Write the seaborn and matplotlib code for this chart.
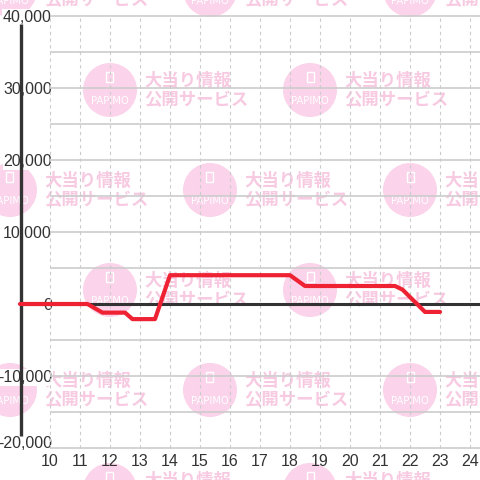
import numpy as np
import pandas as pd
import seaborn as sns
import matplotlib.pyplot as plt
import matplotlib.transforms as mtransforms
from matplotlib.patches import Rectangle

# game balance over the day (hour -> medals)
hours = [9, 11.25, 11.75, 12.5, 12.75, 13.5, 14, 18, 18.5, 21.5, 21.75, 22.5, 23]
balance = [0, 0, -1200, -1200, -2100, -2100, 4000, 4000, 2500, 2500, 2000, -1100, -1100]

x_ticks = list(range(10, 25))
y_ticks = [-20000, -10000, 0, 10000, 20000, 30000, 40000]
y_tick_labels = ['-20,000', '-10,000', '0', '10,000', '20,000', '30,000', '40,000']

df = pd.DataFrame({'hour': hours, 'balance': balance})

sns.set_theme(style="white")
plt.rcParams['font.family'] = ['Liberation Sans', 'DejaVu Sans']

fig = plt.figure(figsize=(4.8, 4.8), dpi=100)
ax = fig.add_axes([0, 0, 1, 1])
ax.set_xlim(9 - 20 / 30, 10 + 430 / 30)
ax.set_ylim(-20000 - 32 / 72 * 10000, 40000 + 16 / 72 * 10000)
for s in ax.spines.values():
    s.set_visible(False)


# watermark tiles, pixel centres converted to data coords
def px(x, y):
    return 9 + (x - 20) / 30, (304 - y) / 72 * 10000


centres = [(10, -10), (210, -10), (410, -10),
           (110, 90), (310, 90),
           (10, 190), (210, 190), (410, 190),
           (110, 290), (310, 290),
           (10, 390), (210, 390), (410, 390),
           (110, 490), (310, 490)]
pink = '#fbd3ea'
pink_txt = '#f7cae2'
for cx, cy in centres:
    x0, y0 = px(cx, cy)
    ax.scatter([x0], [y0], s=1512, color=pink, edgecolor='none', zorder=0)
    ix, iy = px(cx - 3.5, cy - 8)
    ax.add_patch(Rectangle((ix, iy), 7 / 30, 10 / 72 * 10000, fill=False,
                           edgecolor='white', lw=1, zorder=0.5))
    tx, ty = px(cx, cy + 11)
    ax.text(tx, ty, 'PAPIMO', color='white', fontsize=8, ha='center',
            va='center', family='DejaVu Sans', fontstretch='condensed', zorder=0.5)
    t1x, t1y = px(cx + 34, cy - 9)
    ax.text(t1x, t1y, '大当り情報', color=pink_txt, fontsize=12.5, weight='bold',
            ha='left', va='center', family=['Noto Sans CJK JP'], zorder=0.5)
    t2x, t2y = px(cx + 34, cy + 10)
    ax.text(t2x, t2y, '公開サービス', color=pink_txt, fontsize=12.5, weight='bold',
            ha='left', va='center', family=['Noto Sans CJK JP'], zorder=0.5)

# grid
ax.hlines(np.arange(-20000, 40001, 5000), 10, 24.4, color='#cccccc', lw=1.2, zorder=1)
ax.vlines(x_ticks, -20000, 40000, color='#cccccc', lw=0.8, linestyles=(0, (3, 3)), zorder=1)

# axes lines
ax.hlines(0, 9.05, 24.4, color='#333333', lw=2.2, zorder=2)
ax.vlines(9.05, -18300, 38900, color='#333333', lw=2.4, zorder=2)

sns.lineplot(data=df, x='hour', y='balance', color='#ee2233', lw=3,
             ax=ax, zorder=3, solid_capstyle='round', solid_joinstyle='round')

ax.set_xticks(x_ticks)
ax.set_yticks(y_ticks)
ax.set_yticklabels(y_tick_labels)
ax.tick_params(axis='y', length=0, pad=-37.4, labelsize=11.5, labelcolor='#333333')
ax.tick_params(axis='x', length=0, pad=-19, labelsize=11.5, labelcolor='#333333')
for lbl in ax.get_yticklabels():
    lbl.set_bbox(dict(facecolor='white', edgecolor='none', pad=0.5))
    lbl.set_zorder(4)
# bottom label sits a little above its gridline
low = ax.get_yticklabels()[0]
low.set_transform(low.get_transform() +
                  mtransforms.ScaledTranslation(0, 6 / 100, fig.dpi_scale_trans))
ax.set_xlabel('')
ax.set_ylabel('')
ax.grid(False)

fig.savefig('out.png', dpi=100)
